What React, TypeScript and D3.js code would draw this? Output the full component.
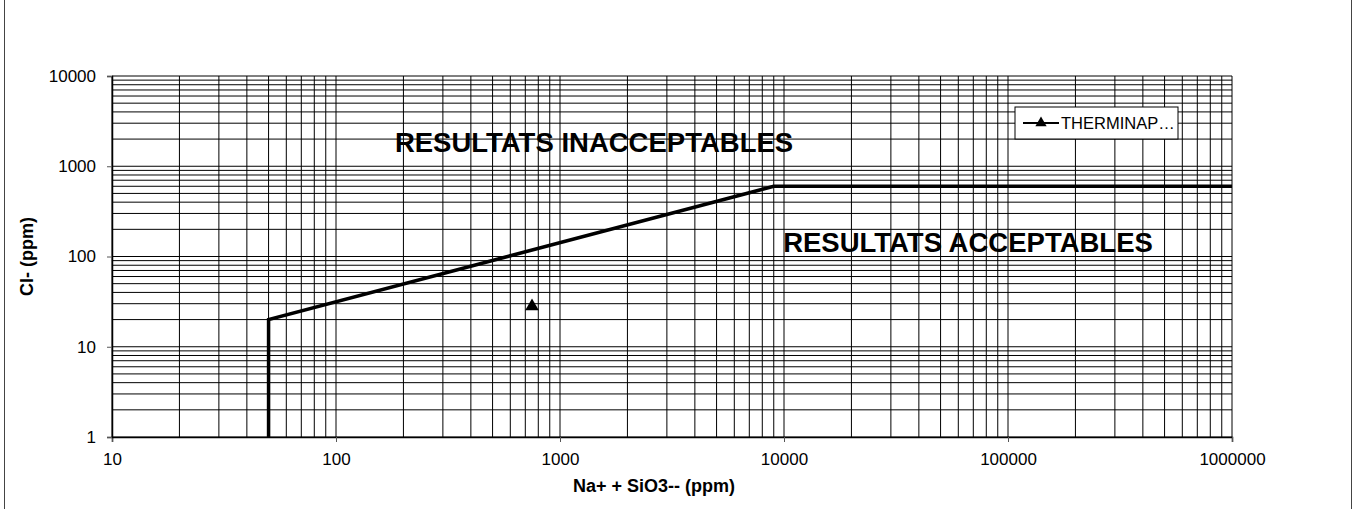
import * as d3 from 'd3';
import { useEffect, useRef } from 'react';

// limit curve (Na+ + SiO3--, Cl-)
const limitX = [50, 50, 9000, 1000000];
const limitY = [1, 20, 600, 600];

// measured point
const seriesName = 'THERMINAP…';
const pointX = [750];
const pointY = [28];

const xTicks = [10, 100, 1000, 10000, 100000, 1000000];
const yTicks = [1, 10, 100, 1000, 10000];

const W = 1355;
const H = 509;
const font = 'Liberation Sans, Arial, sans-serif';

export default function App() {
  const ref = useRef<SVGSVGElement | null>(null);
  const margin = { left: 112, right: 123, top: 76, bottom: 72 };

  useEffect(() => {
    if (!ref.current) return;
    const svg = d3.select(ref.current);
    svg.selectAll('*').remove();

    const x = d3
      .scaleLog()
      .domain([10, 1000000])
      .range([margin.left, W - margin.right]);
    const y = d3
      .scaleLog()
      .domain([1, 10000])
      .range([H - margin.bottom, margin.top]);

    // outer chart border (top and bottom cut off)
    svg
      .append('rect')
      .attr('x', 4.5)
      .attr('y', -10)
      .attr('width', W - 8)
      .attr('height', H + 20)
      .attr('fill', 'white')
      .attr('stroke', '#444')
      .attr('stroke-width', 1);

    // region labels under the grid
    svg
      .append('text')
      .attr('x', 594)
      .attr('y', 152)
      .attr('text-anchor', 'middle')
      .attr('font-family', font)
      .attr('font-weight', 'bold')
      .attr('font-size', 27.5)
      .text('RESULTATS INACCEPTABLES');
    svg
      .append('text')
      .attr('x', 968)
      .attr('y', 252)
      .attr('text-anchor', 'middle')
      .attr('font-family', font)
      .attr('font-weight', 'bold')
      .attr('font-size', 27.5)
      .text('RESULTATS ACCEPTABLES');

    // grid lines: every 1..9 in each decade
    const minor = (lo: number, hi: number) => {
      const out: number[] = [];
      for (let p = lo; p < hi; p *= 10) {
        for (let k = 1; k < 10; k++) out.push(p * k);
      }
      out.push(hi);
      return out;
    };
    const grid = svg.append('g').attr('stroke', '#000').attr('stroke-width', 1);
    grid
      .selectAll('line.v')
      .data(minor(10, 1000000))
      .join('line')
      .attr('x1', (d) => x(d))
      .attr('x2', (d) => x(d))
      .attr('y1', y(1))
      .attr('y2', y(10000));
    grid
      .selectAll('line.h')
      .data(minor(1, 10000))
      .join('line')
      .attr('x1', x(10))
      .attr('x2', x(1000000))
      .attr('y1', (d) => y(d))
      .attr('y2', (d) => y(d));

    // axes
    const xAxis = svg
      .append('g')
      .attr('transform', `translate(0,${y(1)})`)
      .call(
        d3
          .axisBottom(x)
          .tickValues(xTicks)
          .tickFormat((d) => String(d))
          .tickSize(5)
          .tickPadding(11)
      );
    const yAxis = svg
      .append('g')
      .attr('transform', `translate(${x(10)},0)`)
      .call(
        d3
          .axisLeft(y)
          .tickValues(yTicks)
          .tickFormat((d) => String(d))
          .tickSize(5)
          .tickPadding(11)
      );
    [xAxis, yAxis].forEach((a) => {
      a.select('.domain').attr('stroke', '#000').attr('stroke-width', 1.5);
      a.selectAll('.tick line').attr('stroke', '#555');
      a.selectAll('text')
        .attr('font-family', font)
        .attr('font-size', 17)
        .attr('fill', '#000');
    });

    // limit curve
    const line = d3
      .line<number>()
      .x((i) => x(limitX[i]))
      .y((i) => y(limitY[i]));
    svg
      .append('path')
      .attr('d', line(d3.range(limitX.length)))
      .attr('fill', 'none')
      .attr('stroke', '#000')
      .attr('stroke-width', 3.5);

    const tri = d3.symbol().type(d3.symbolTriangle).size(80);
    svg
      .append('g')
      .selectAll('path')
      .data(d3.range(pointX.length))
      .join('path')
      .attr('d', tri)
      .attr('transform', (i) => `translate(${x(pointX[i])},${y(pointY[i])})`)
      .attr('fill', '#000');

    // axis titles
    svg
      .append('text')
      .attr('x', 654)
      .attr('y', 492)
      .attr('text-anchor', 'middle')
      .attr('font-family', font)
      .attr('font-weight', 'bold')
      .attr('font-size', 18)
      .text('Na+ + SiO3-- (ppm)');
    svg
      .append('text')
      .attr('transform', `translate(33,${(y(1) + y(10000)) / 2}) rotate(-90)`)
      .attr('text-anchor', 'middle')
      .attr('font-family', font)
      .attr('font-weight', 'bold')
      .attr('font-size', 18)
      .text('Cl- (ppm)');

    // legend
    const lg = svg.append('g').attr('transform', 'translate(1015,107)');
    lg.append('rect')
      .attr('width', 163)
      .attr('height', 32)
      .attr('fill', 'white')
      .attr('stroke', '#000')
      .attr('stroke-width', 1);
    lg.append('line')
      .attr('x1', 8)
      .attr('x2', 44)
      .attr('y1', 16)
      .attr('y2', 16)
      .attr('stroke', '#000')
      .attr('stroke-width', 2);
    lg.append('path')
      .attr('d', d3.symbol().type(d3.symbolTriangle).size(55)())
      .attr('transform', 'translate(26,16)');
    lg.append('text')
      .attr('x', 46)
      .attr('y', 22)
      .attr('font-family', font)
      .attr('font-size', 16.5)
      .text(seriesName);
  }, []);

  return (
    <svg
      ref={ref}
      width={W}
      height={H}
      style={{ position: 'absolute', left: 0, top: 0, background: 'white' }}
    />
  );
}
